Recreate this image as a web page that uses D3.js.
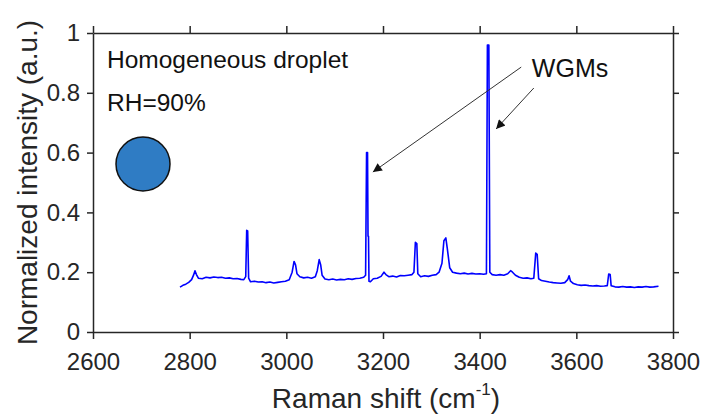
<!DOCTYPE html>
<html>
<head>
<meta charset="utf-8">
<script src="https://cdn.jsdelivr.net/npm/d3@7"></script>
<style>
  body { margin: 0; background: #fff; }
  svg { font-family: "Liberation Sans", Arial, sans-serif; }
  .axis path, .axis line { stroke: #262626; stroke-width: 1.5; }
  .axis text { fill: #262626; font-size: 24px; }
</style>
</head>
<body>
<svg id="chart" width="705" height="417"></svg>
<script>
// Raman shift (cm^-1) and normalized intensity
const shift = [
  2780, 2786, 2792, 2798, 2804, 2808, 2811, 2814, 2818, 2826, 2834, 2842, 2850, 2858, 2866, 2874,
  2882, 2890, 2898, 2906, 2912, 2916, 2918, 2920, 2922, 2926, 2934, 2942, 2950, 2958, 2966, 2974,
  2982, 2990, 2998, 3006, 3012, 3016, 3019, 3022, 3028, 3036, 3044, 3052, 3060, 3064, 3068, 3071,
  3074, 3080, 3088, 3096, 3104, 3112, 3120, 3128, 3136, 3144, 3152, 3160, 3164, 3166, 3168, 3169,
  3170, 3171, 3174, 3180, 3188, 3196, 3202, 3206, 3212, 3220, 3228, 3236, 3244, 3252, 3260, 3264,
  3267, 3270, 3272, 3278, 3286, 3294, 3302, 3310, 3316, 3322, 3326, 3330, 3333, 3338, 3344, 3352,
  3360, 3368, 3376, 3384, 3392, 3400, 3408, 3414, 3416, 3419, 3421, 3426, 3434, 3442, 3450, 3458,
  3464, 3468, 3474, 3482, 3490, 3498, 3506, 3512, 3516, 3519, 3522, 3528, 3536, 3544, 3552, 3560,
  3568, 3576, 3582, 3585, 3588, 3594, 3602, 3610, 3618, 3626, 3634, 3642, 3650, 3658, 3664, 3667,
  3670, 3672, 3680, 3688, 3696, 3704, 3712, 3720, 3728, 3736, 3744, 3752, 3760, 3770
];
const intensity = [
  0.150, 0.156, 0.160, 0.166, 0.175, 0.190, 0.205, 0.192, 0.180, 0.178, 0.183, 0.181, 0.184, 0.182, 0.183, 0.180,
  0.181, 0.178, 0.179, 0.176, 0.175, 0.185, 0.340, 0.338, 0.180, 0.168, 0.170, 0.167, 0.168, 0.165, 0.167, 0.164,
  0.166, 0.168, 0.170, 0.175, 0.200, 0.236, 0.225, 0.195, 0.185, 0.181, 0.183, 0.180, 0.185, 0.205, 0.242, 0.225,
  0.190, 0.177, 0.175, 0.177, 0.174, 0.176, 0.175, 0.178, 0.176, 0.179, 0.180, 0.183, 0.190, 0.600, 0.600, 0.320,
  0.320, 0.170, 0.168, 0.178, 0.180, 0.186, 0.200, 0.192, 0.185, 0.187, 0.184, 0.189, 0.188, 0.190, 0.192, 0.200,
  0.300, 0.296, 0.195, 0.185, 0.188, 0.186, 0.190, 0.192, 0.200, 0.230, 0.305, 0.315, 0.280, 0.215, 0.200, 0.197,
  0.195, 0.197, 0.194, 0.196, 0.194, 0.195, 0.193, 0.195, 0.960, 0.960, 0.200, 0.192, 0.190, 0.192, 0.190, 0.195,
  0.205, 0.200, 0.190, 0.183, 0.180, 0.181, 0.178, 0.180, 0.264, 0.260, 0.178, 0.172, 0.170, 0.167, 0.165, 0.164,
  0.163, 0.165, 0.175, 0.188, 0.170, 0.162, 0.158, 0.156, 0.157, 0.155, 0.154, 0.155, 0.153, 0.154, 0.155, 0.194,
  0.192, 0.155, 0.151, 0.150, 0.152, 0.150, 0.151, 0.149, 0.151, 0.150, 0.152, 0.150, 0.151, 0.153
];
const xTicks = [2600, 2800, 3000, 3200, 3400, 3600, 3800];
const yTicks = [0, 0.2, 0.4, 0.6, 0.8, 1];

// annotation arrows: [fromX, fromY, toX, toY] in data units
const arrows = [
  [3486, 0.886, 3179, 0.535],
  [3512, 0.816, 3434, 0.679]
];

const svg = d3.select("#chart");
const margin = {top: 33, right: 32, bottom: 85, left: 93};
const W = +svg.attr("width"), H = +svg.attr("height");
const w = W - margin.left - margin.right, h = H - margin.top - margin.bottom;

const x = d3.scaleLinear().domain([2600, 3800]).range([0, w]);
const y = d3.scaleLinear().domain([0, 1]).range([h, 0]);

const g = svg.append("g").attr("transform", `translate(${margin.left},${margin.top})`);

svg.append("defs").append("clipPath").attr("id", "clip")
  .append("rect").attr("width", w).attr("height", h);

svg.select("defs").append("marker")
  .attr("id", "head")
  .attr("viewBox", "0 0 10 10")
  .attr("refX", 10).attr("refY", 5)
  .attr("markerWidth", 11).attr("markerHeight", 9)
  .attr("markerUnits", "userSpaceOnUse")
  .attr("orient", "auto")
  .append("path").attr("d", "M0,0L10,5L0,10Z").attr("fill", "#111");

// axes (outward ticks on all four sides)
g.append("g").attr("class", "axis")
  .attr("transform", `translate(0,${h})`)
  .call(d3.axisBottom(x).tickValues(xTicks).tickSize(7).tickPadding(14).tickSizeOuter(0)
    .tickFormat(d3.format("d")))
  .selectAll("text").attr("dy", "0.71em");
g.append("g").attr("class", "axis")
  .call(d3.axisTop(x).tickValues(xTicks).tickSize(7).tickFormat("").tickSizeOuter(0));
g.append("g").attr("class", "axis")
  .call(d3.axisLeft(y).tickValues(yTicks).tickSize(6).tickPadding(7).tickSizeOuter(0)
    .tickFormat(d => d3.format("~g")(d)));
g.append("g").attr("class", "axis")
  .attr("transform", `translate(${w},0)`)
  .call(d3.axisRight(y).tickValues(yTicks).tickSize(6).tickFormat("").tickSizeOuter(0));

// spectrum
const data = shift.map((s, i) => ({s, v: intensity[i]}));
g.append("path")
  .datum(data)
  .attr("clip-path", "url(#clip)")
  .attr("fill", "none")
  .attr("stroke", "#0000ff")
  .attr("stroke-width", 1.6)
  .attr("stroke-linejoin", "round")
  .attr("d", d3.line().x(d => x(d.s)).y(d => y(d.v)));

// annotations
g.selectAll("line.arrow")
  .data(arrows)
  .join("line")
  .attr("class", "arrow")
  .attr("x1", d => x(d[0])).attr("y1", d => y(d[1]))
  .attr("x2", d => x(d[2])).attr("y2", d => y(d[3]))
  .attr("stroke", "#333").attr("stroke-width", 1)
  .attr("marker-end", "url(#head)");

g.append("text")
  .attr("x", x(3508)).attr("y", y(0.853))
  .attr("font-size", 25).attr("fill", "#111")
  .text("WGMs");

g.append("text")
  .attr("x", 14).attr("y", 35)
  .attr("font-size", 24.5).attr("fill", "#111")
  .text("Homogeneous droplet");
g.append("text")
  .attr("x", 14).attr("y", 78)
  .attr("font-size", 24.5).attr("fill", "#111")
  .text("RH=90%");
g.append("circle")
  .attr("cx", 50).attr("cy", 131).attr("r", 27)
  .attr("fill", "#2f7cc4").attr("stroke", "#111").attr("stroke-width", 1.5);

// axis titles
svg.append("text")
  .attr("transform", `translate(37,${margin.top + h / 2}) rotate(-90)`)
  .attr("text-anchor", "middle")
  .attr("font-size", 28).attr("fill", "#262626")
  .text("Normalized intensity (a.u.)");

const xl = svg.append("text")
  .attr("x", margin.left + w / 2 + 3).attr("y", 408)
  .attr("text-anchor", "middle")
  .attr("font-size", 28).attr("fill", "#262626");
xl.append("tspan").text("Raman shift (cm");
xl.append("tspan").attr("font-size", 17).attr("dy", -13).text("-1");
xl.append("tspan").attr("dy", 13).text(")");
</script>
</body>
</html>
